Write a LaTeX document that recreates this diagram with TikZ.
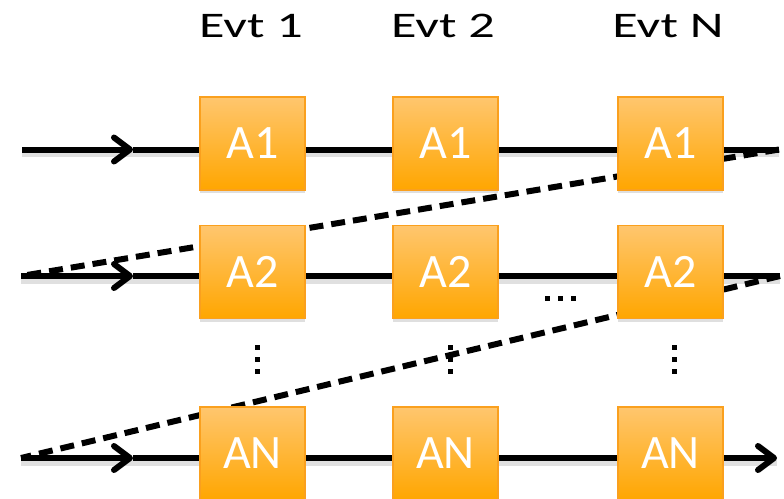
\documentclass[tikz,border=0pt]{standalone}
\usepackage{fontspec}
\setmainfont{Carlito}
\newfontfamily\evtfont[FakeStretch=1.45]{Carlito}
\usetikzlibrary{arrows.meta,shadows}
\begin{document}
\begin{tikzpicture}[x=1pt,y=-1pt,
  blk/.style={draw={rgb,255:red,250;green,160;blue,30}, line width=1.2pt,
    top color={rgb,255:red,255;green,198;blue,110}, bottom color={rgb,255:red,255;green,166;blue,0},
    minimum width=105pt, minimum height=93pt, inner sep=0pt, text=white,
    font=\fontsize{48}{50}\selectfont,
    drop shadow={opacity=0.25, shadow xshift=0pt, shadow yshift=-3pt}},
  evt/.style={anchor=base, font=\evtfont\fontsize{36}{40}\selectfont},
  wire/.style={line width=6pt},
  shd/.style={line width=7pt, draw=black, opacity=0.12},
  dsh/.style={line width=6pt, dash pattern=on 14pt off 8pt},
  arr/.style={-{Straight Barb[length=16pt,width=24pt,line cap=round,line join=round]}},
  dotm/.style={fill=black, minimum size=5pt, inner sep=0pt}]
\useasboundingbox (0,0) rectangle (784,498);
\clip (0,0) rectangle (784,498);
% labels
\node[evt] (e1) at (251,37.5) {Evt 1};
\node[evt] (e2) at (443,37.5) {Evt 2};
\node[evt] (e3) at (668,37.5) {Evt N};
% row coordinates
\coordinate (l1) at (22,149.5);  \coordinate (m1) at (133,149.5); \coordinate (r1) at (779,149.5);
\coordinate (l2) at (21,276);  \coordinate (m2) at (133,276); \coordinate (r2) at (780,276);
\coordinate (l3) at (21,458);  \coordinate (m3) at (133,458); \coordinate (r3) at (777,458);
% soft shadows of the wires
\draw[shd] ([yshift=-4pt]l1) -- ([yshift=-4pt]r1);
\draw[shd] ([yshift=-4pt]l2) -- ([yshift=-4pt]r2);
\draw[shd] ([yshift=-4pt]l3) -- ([yshift=-4pt]r3);
% dashed returns
\draw[dsh] (r1) -- (l2);
\draw[dsh] (r2) -- (l3);
% wires
\draw[wire,arr] (l1) -- (m1); \draw[wire] (m1) -- (r1);
\draw[wire,arr] (l2) -- (m2); \draw[wire] (m2) -- (r2);
\draw[wire,arr] (l3) -- (m3); \draw[wire,arr] (m3) -- (r3);
% boxes
\node[blk] (a11) at (252.5,143.5) {A1};
\node[blk] (a12) at (445.5,143.5) {A1};
\node[blk] (a13) at (670.5,143.5) {A1};
\node[blk] (a21) at (252.5,272) {A2};
\node[blk] (a22) at (445.5,272) {A2};
\node[blk] (a23) at (670.5,272) {A2};
\node[blk] (a31) at (252.5,453.5) {AN};
\node[blk] (a32) at (445.5,453.5) {AN};
\node[blk] (a33) at (670.5,453.5) {AN};
% dots
\foreach \n/\x in {a/257,b/450,c/674}{
  \node[dotm] (v\n1) at (\x,347) {};
  \node[dotm] (v\n2) at (\x,359) {};
  \node[dotm] (v\n3) at (\x,371) {};
}
\node[dotm] (h1) at (547,298) {};
\node[dotm] (h2) at (560,298) {};
\node[dotm] (h3) at (573,298) {};
\end{tikzpicture}
\end{document}
